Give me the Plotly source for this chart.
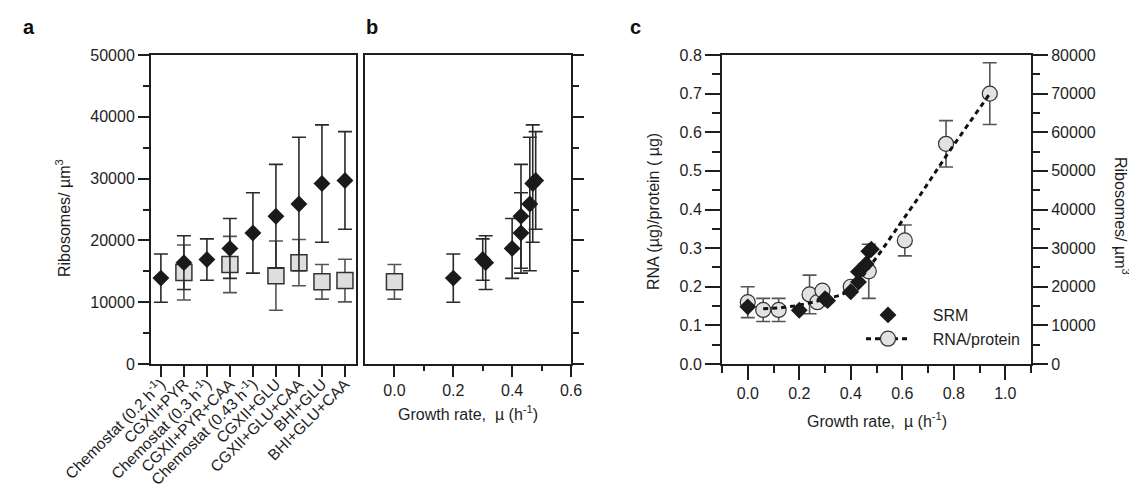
import plotly.graph_objects as go

# ---------------- data ----------------
categories = ["Chemostat (0.2 h<sup>-1</sup>)", "CGXII+PYR", "Chemostat (0.3 h<sup>-1</sup>)",
              "CGXII+PYR+CAA", "Chemostat (0.43 h<sup>-1</sup>)", "CGXII+GLU",
              "CGXII+GLU+CAA", "BHI+GLU", "BHI+GLU+CAA"]
srm_vals = [13900, 16400, 16900, 18700, 21200, 23900, 25900, 29200, 29700]
srm_err = [3900, 4350, 3350, 4850, 6500, 8400, 10800, 9500, 7900]
srm_mu = [0.20, 0.31, 0.30, 0.40, 0.43, 0.43, 0.46, 0.47, 0.48]

sq_cats = ["CGXII+PYR", "CGXII+PYR+CAA", "CGXII+GLU", "CGXII+GLU+CAA", "BHI+GLU", "BHI+GLU+CAA"]
sq_vals = [14800, 16100, 14300, 16400, 13300, 13500]
sq_err = [4450, 4550, 5600, 3750, 2800, 3450]

b_sq_mu = [0.0]
b_sq_vals = [13300]
b_sq_err = [2800]

c_srm_mu = [0.0, 0.20, 0.30, 0.31, 0.40, 0.43, 0.43, 0.46, 0.47, 0.48]
c_srm_vals = [14800, 13900, 16900, 16400, 18700, 21200, 23900, 25900, 29200, 29700]

rna_mu = [0.0, 0.06, 0.12, 0.24, 0.27, 0.29, 0.40, 0.47, 0.61, 0.77, 0.94]
rna_vals = [0.16, 0.14, 0.14, 0.18, 0.16, 0.19, 0.20, 0.24, 0.32, 0.57, 0.70]
rna_err = [0.04, 0.03, 0.03, 0.05, 0.0, 0.0, 0.0, 0.07, 0.04, 0.06, 0.08]

fit_mu = [0.06, 0.12, 0.18, 0.24, 0.30, 0.36, 0.40, 0.44, 0.48, 0.52, 0.62, 0.66, 0.78, 0.94]
fit_vals = [0.143, 0.145, 0.150, 0.158, 0.168, 0.178, 0.192, 0.222, 0.258, 0.294, 0.39, 0.428, 0.548, 0.70]

# ---------------- styling ----------------
W, H = 1137, 486
FONT = "Liberation Sans, Arial, Helvetica, sans-serif"
INK = "#1e1e1e"
DIAMOND = "#1a1a1a"
SQFILL = "#dedede"
CIRCFILL = "#e2e2e2"
EBAR_D = "#2a2a2a"
EBAR_S = "#555555"


def px(x):
    return x / W


def py(y):
    return 1 - y / H


top, bot = 47, 356
ydom = [py(bot), py(top)]

fig = go.Figure()

# ---- panel a ----
fig.add_trace(go.Scatter(
    x=sq_cats, y=sq_vals, mode="markers", xaxis="x", yaxis="y",
    marker=dict(symbol="square", size=16, color=SQFILL, line=dict(color="#333", width=1.5)),
    error_y=dict(type="data", array=sq_err, color=EBAR_S, thickness=1.6, width=7),
    showlegend=False))
fig.add_trace(go.Scatter(
    x=categories, y=srm_vals, mode="markers", xaxis="x", yaxis="y",
    marker=dict(symbol="diamond", size=13, color=DIAMOND, line=dict(width=0)),
    error_y=dict(type="data", array=srm_err, color=EBAR_D, thickness=1.6, width=7),
    showlegend=False))

# ---- panel b ----
fig.add_trace(go.Scatter(
    x=b_sq_mu, y=b_sq_vals, mode="markers", xaxis="x2", yaxis="y2",
    marker=dict(symbol="square", size=16, color=SQFILL, line=dict(color="#333", width=1.5)),
    error_y=dict(type="data", array=b_sq_err, color=EBAR_S, thickness=1.6, width=7),
    showlegend=False))
fig.add_trace(go.Scatter(
    x=srm_mu, y=srm_vals, mode="markers", xaxis="x2", yaxis="y2",
    marker=dict(symbol="diamond", size=13, color=DIAMOND, line=dict(width=0)),
    error_y=dict(type="data", array=srm_err, color=EBAR_D, thickness=1.6, width=7),
    showlegend=False))

# ---- panel c ----
fig.add_trace(go.Scatter(
    x=rna_mu, y=rna_vals, mode="markers", xaxis="x3", yaxis="y3",
    marker=dict(symbol="circle", size=15, color=CIRCFILL, line=dict(color="#333", width=1.2)),
    error_y=dict(type="data", array=rna_err, color=EBAR_S, thickness=1.6, width=7),
    showlegend=False))
fig.add_trace(go.Scatter(
    x=fit_mu, y=fit_vals, mode="lines", xaxis="x3", yaxis="y3",
    line=dict(color="#111", width=3, dash="5px,4px"),
    showlegend=False))
fig.add_trace(go.Scatter(
    x=c_srm_mu, y=c_srm_vals, mode="markers", xaxis="x3", yaxis="y4",
    marker=dict(symbol="diamond", size=13, color=DIAMOND, line=dict(width=0)),
    name="\u00a0\u00a0\u00a0\u00a0SRM", showlegend=True, legendrank=1))
# legend-only entry for RNA/protein
fig.add_trace(go.Scatter(
    x=[None], y=[None], mode="lines+markers", xaxis="x3", yaxis="y3",
    marker=dict(symbol="circle", size=15, color=CIRCFILL, line=dict(color="#333", width=1.2)),
    line=dict(color="#111", width=3, dash="5px,4px"),
    name="\u00a0\u00a0\u00a0\u00a0RNA/protein", showlegend=True, legendrank=2))

axis_common = dict(showgrid=False, zeroline=False, showline=True, linecolor=INK, linewidth=2,
                   ticks="outside", tickcolor=INK, tickwidth=2, automargin=False,
                   tickfont=dict(family=FONT, size=16, color=INK))

fig.update_layout(
    width=W, height=H, margin=dict(l=0, r=0, t=0, b=0, autoexpand=False),
    paper_bgcolor="white", plot_bgcolor="white",
    font=dict(family=FONT, size=16, color=INK),
    xaxis=dict(axis_common, domain=[px(143), px(348)], anchor="y", type="category",
               categoryorder="array", categoryarray=categories,
               range=[-0.43, 8.48], mirror=True, ticklen=11, tickangle=-45,
               ticklabelstandoff=-8,
               tickfont=dict(family=FONT, size=15.5, color=INK)),
    yaxis=dict(axis_common, domain=ydom, anchor="x", range=[0, 50000], dtick=10000, tickformat="d",
               ticklen=11, mirror=True, minor=dict(dtick=5000, ticklen=6, tickwidth=2, tickcolor=INK, ticks="outside")),
    xaxis2=dict(axis_common, domain=[px(357), px(563)], anchor="y2", range=[-0.1, 0.6],
                tickvals=[0.0, 0.2, 0.4, 0.6], tickformat=".1f", ticklen=11, mirror=True,
                minor=dict(tickvals=[0.1, 0.3, 0.5], ticklen=5, tickwidth=2, tickcolor=INK, ticks="outside")),
    yaxis2=dict(axis_common, domain=ydom, anchor="x2", side="right", range=[0, 50000], dtick=10000,
                showticklabels=False, ticklen=11, mirror=True,
                minor=dict(dtick=5000, ticklen=6, tickwidth=2, tickcolor=INK, ticks="outside")),
    xaxis3=dict(axis_common, domain=[px(714), px(1023)], anchor="y3", range=[-0.1, 1.1],
                dtick=0.2, tick0=0, tickformat=".1f", ticklen=14, mirror=True,
                minor=dict(dtick=0.1, tick0=0, ticklen=7, tickwidth=2, tickcolor=INK, ticks="outside")),
    yaxis3=dict(axis_common, domain=ydom, anchor="x3", range=[0, 0.8], dtick=0.1, tickformat=".1f",
                ticklen=15, minor=dict(dtick=0.05, ticklen=8, tickwidth=2, tickcolor=INK, ticks="outside")),
    yaxis4=dict(axis_common, domain=ydom, anchor="x3", overlaying="y3", side="right",
                range=[0, 80000], dtick=10000, tickformat="d", ticklen=15,
                minor=dict(dtick=5000, ticklen=7, tickwidth=2, tickcolor=INK, ticks="outside")),
    legend=dict(x=px(853), y=py(290), xanchor="left", yanchor="top", bgcolor="rgba(0,0,0,0)",
                borderwidth=0, font=dict(family=FONT, size=16, color=INK), itemwidth=44,
                traceorder="normal", tracegroupgap=0),
)

anns = []
for t, x in [("<b>a</b>", 21), ("<b>b</b>", 364), ("<b>c</b>", 627)]:
    anns.append(dict(text=t, x=px(x), y=py(19), xref="paper", yref="paper",
                     showarrow=False, xanchor="center", yanchor="middle",
                     font=dict(family=FONT, size=20, color="#111")))
titles = [
    ("Ribosomes/ µm<sup>3</sup>", 55, 210, -90),
    ("Growth rate,  µ (h<sup>-1</sup>)", 460, 405, 0),
    ("Growth rate,  µ (h<sup>-1</sup>)", 869, 412, 0),
    ("RNA (µg)/protein ( µg)", 645, 204, -90),
    ("Ribosomes/ µm<sup>3</sup>", 1114, 208, 90),
]
for t, x, y, ang in titles:
    anns.append(dict(text=t, x=px(x), y=py(y), textangle=ang, xref="paper", yref="paper",
                     showarrow=False, xanchor="center", yanchor="middle",
                     font=dict(family=FONT, size=16, color=INK)))
fig.update_layout(annotations=anns)

fig.write_html("out.html")
